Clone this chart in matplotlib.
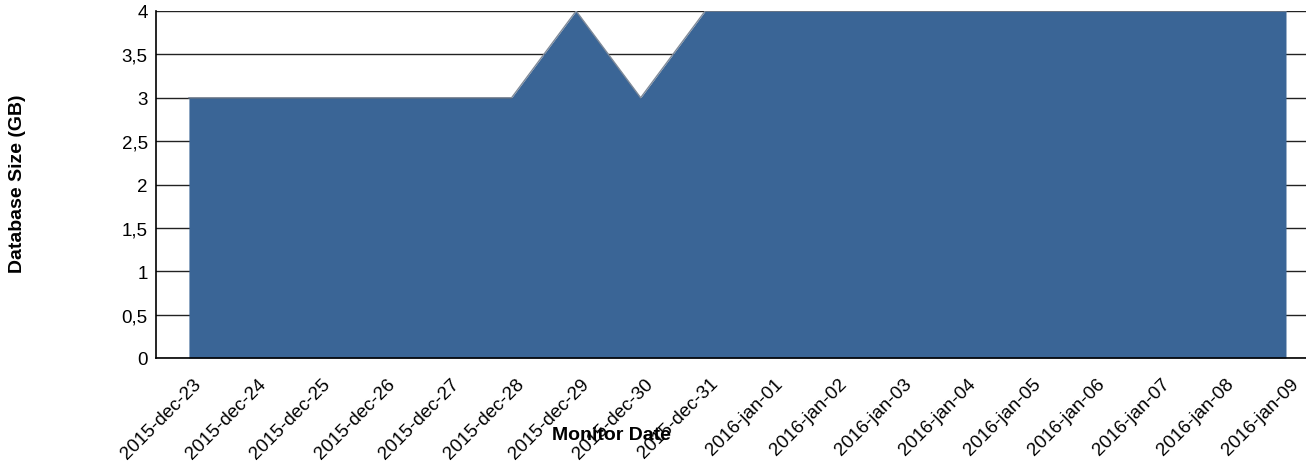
import matplotlib
matplotlib.use("Agg")
import matplotlib.pyplot as plt
import matplotlib.transforms as mtransforms
import numpy as np

plt.rcParams['font.family'] = ['Liberation Sans', 'DejaVu Sans']

dates = ["2015-dec-23", "2015-dec-24", "2015-dec-25", "2015-dec-26", "2015-dec-27",
         "2015-dec-28", "2015-dec-29", "2015-dec-30", "2015-dec-31", "2016-jan-01",
         "2016-jan-02", "2016-jan-03", "2016-jan-04", "2016-jan-05", "2016-jan-06",
         "2016-jan-07", "2016-jan-08", "2016-jan-09"]
size_gb = [3, 3, 3, 3, 3, 3, 4, 3, 4, 4, 4, 4, 4, 4, 4, 4, 4, 4]
yticks = [0, 0.5, 1, 1.5, 2, 2.5, 3, 3.5, 4]
ytick_labels = ["0", "0,5", "1", "1,5", "2", "2,5", "3", "3,5", "4"]

W, H = 1306, 464
fig = plt.figure(figsize=(W / 100, H / 100), dpi=100)
ax = fig.add_axes([156 / W, 1 - 359 / H, 1 - 156 / W, (359 - 12) / H])

x = np.arange(len(dates))
ax.fill_between(x, 0, size_gb, color="#3A6596", linewidth=0, zorder=2)
ax.plot(x, size_gb, color="#7f8a99", linewidth=1.0, zorder=3)

ax.set_xlim(-0.51, len(dates) - 1 + 0.31)
ax.set_ylim(0, 4)
ax.set_yticks(yticks)
ax.set_yticklabels(ytick_labels, fontsize=13.5)
ax.set_xticks(x)
ax.set_xticklabels(dates, rotation=45, ha="right", rotation_mode="anchor", fontsize=13.5)
ax.tick_params(axis="both", length=0, pad=6)
ax.tick_params(axis="x", pad=12)

offset = mtransforms.ScaledTranslation(4 / 100, 0, fig.dpi_scale_trans)
for lbl in ax.get_xticklabels():
    lbl.set_transform(lbl.get_transform() + offset)

ax.grid(axis="y", color="#222222", linewidth=1.0, zorder=1)
ax.set_axisbelow(True)
for s in ["top", "right"]:
    ax.spines[s].set_visible(False)
ax.spines["left"].set_color("black")
ax.spines["bottom"].set_color("black")
ax.spines["left"].set_linewidth(1.2)
ax.spines["bottom"].set_linewidth(1.2)
ax.spines["left"].set_zorder(4)
ax.spines["bottom"].set_zorder(4)

fig.text(18 / W, 1 - 184 / H, "Database Size (GB)", rotation=90, ha="center", va="center",
         fontsize=14, fontweight="bold")
fig.text(611 / W, 1 - 436 / H, "Monitor Date", ha="center", va="center",
         fontsize=14, fontweight="bold")

fig.savefig("out.png", dpi=100)
